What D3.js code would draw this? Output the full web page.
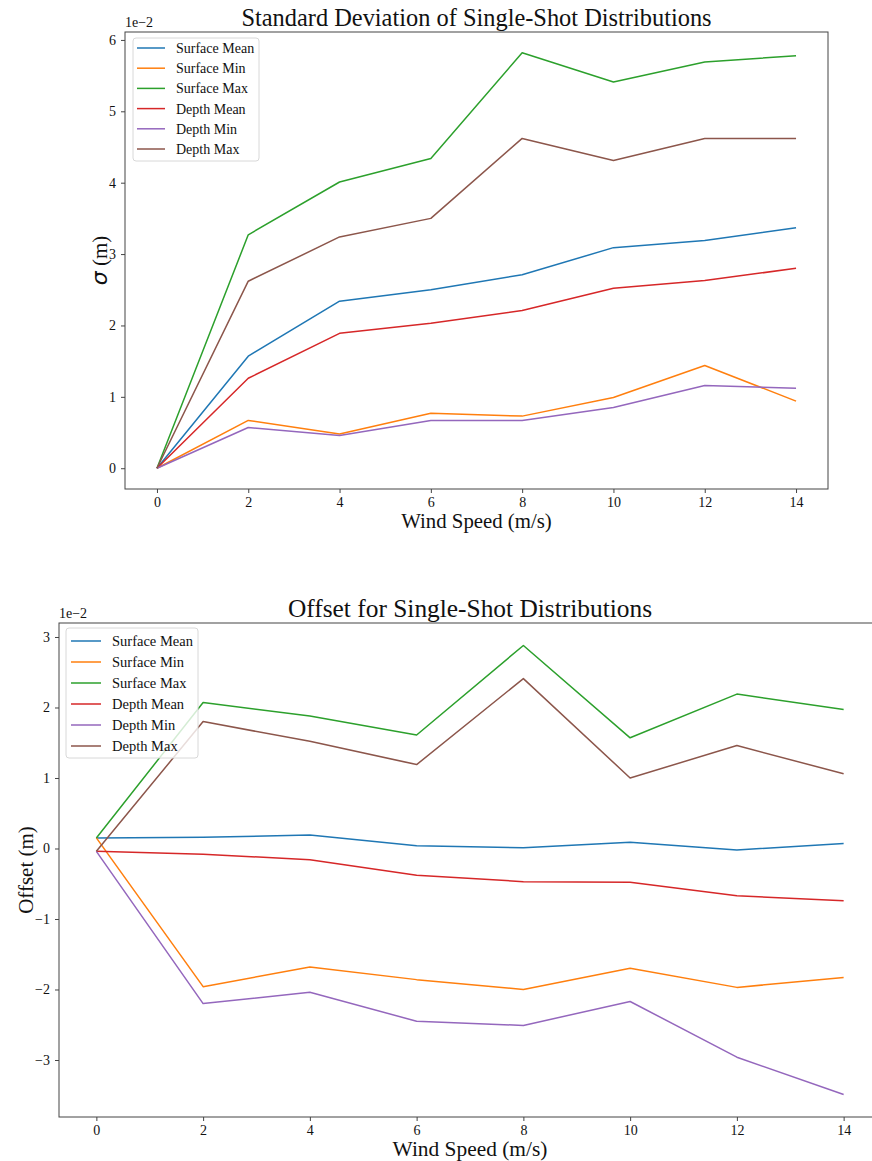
<!DOCTYPE html>
<html>
<head>
<meta charset="utf-8">
<script src="https://cdn.jsdelivr.net/npm/d3@7"></script>
<style>
  html, body { margin: 0; padding: 0; background: #fff; }
  svg { display: block; font-family: "Liberation Serif", "Times New Roman", serif; }
  .tick text { font-family: "Liberation Serif", serif; font-size: 14px; fill: #111; }
  .domain, .tick line { stroke: #444; }
</style>
</head>
<body>
<svg id="fig" width="872" height="1161"></svg>
<script>
// Wind speeds (m/s)
const windSpeeds = [0, 2, 4, 6, 8, 10, 12, 14];

const seriesNames = ["Surface Mean", "Surface Min", "Surface Max", "Depth Mean", "Depth Min", "Depth Max"];
const seriesColors = ["#1f77b4", "#ff7f0e", "#2ca02c", "#d62728", "#9467bd", "#8c564b"];

// Standard deviation of single-shot distributions (m)
const stdSurfaceMean = [0, 0.0157, 0.0234, 0.0250, 0.0271, 0.0309, 0.0319, 0.0337];
const stdSurfaceMin  = [0, 0.0067, 0.0048, 0.0077, 0.0073, 0.0099, 0.0144, 0.0094];
const stdSurfaceMax  = [0, 0.0327, 0.0401, 0.0434, 0.0582, 0.0541, 0.0569, 0.0578];
const stdDepthMean   = [0, 0.0126, 0.0189, 0.0203, 0.0221, 0.0252, 0.0263, 0.0280];
const stdDepthMin    = [0, 0.0057, 0.0046, 0.0067, 0.0067, 0.0085, 0.0116, 0.0112];
const stdDepthMax    = [0, 0.0262, 0.0324, 0.0350, 0.0462, 0.0431, 0.0462, 0.0462];

// Offset of single-shot distributions (m)
const offSurfaceMean = [0.0015, 0.0016, 0.0019, 0.0004, 0.0001, 0.0009, -0.0002, 0.0007];
const offSurfaceMin  = [0.0015, -0.0196, -0.0168, -0.0186, -0.0200, -0.0170, -0.0197, -0.0183];
const offSurfaceMax  = [0.0015, 0.0207, 0.0188, 0.0161, 0.0288, 0.0157, 0.0219, 0.0197];
const offDepthMean   = [-0.0004, -0.0008, -0.0016, -0.0038, -0.0047, -0.0048, -0.0067, -0.0074];
const offDepthMin    = [-0.0004, -0.0220, -0.0204, -0.0245, -0.0251, -0.0217, -0.0296, -0.0349];
const offDepthMax    = [-0.0004, 0.0180, 0.0152, 0.0119, 0.0241, 0.0100, 0.0146, 0.0106];

const xTicks = [0, 2, 4, 6, 8, 10, 12, 14];
const stdTicks = [0, 1, 2, 3, 4, 5, 6];
const offTicks = [-3, -2, -1, 0, 1, 2, 3];

const svg = d3.select("#fig");

// Pad a data extent by 5% on each side
function padded(lo, hi) {
  const m = (hi - lo) * 0.05;
  return [lo - m, hi + m];
}

function drawPanel(cfg) {
  const { left, top, width, height, series, title, titleSize, xLabelSize, yLabel, yTicks, legend } = cfg;
  const g = svg.append("g");

  const x = d3.scaleLinear().domain(padded(0, 14)).range([left, left + width]);
  const all = series.flat();
  const y = d3.scaleLinear().domain(padded(d3.min(all), d3.max(all))).range([top + height, top]);

  // frame
  g.append("rect")
    .attr("x", left).attr("y", top).attr("width", width).attr("height", height)
    .attr("fill", "none").attr("stroke", "#444").attr("stroke-width", 1);

  // axes
  const xAxis = d3.axisBottom(x).tickValues(xTicks).tickSize(4).tickPadding(4).tickFormat(d3.format("d"));
  g.append("g").attr("transform", `translate(0,${top + height})`).call(xAxis)
    .call(s => s.select(".domain").remove());

  const yAxis = d3.axisLeft(y).tickValues(yTicks.map(v => v / 100)).tickSize(4).tickPadding(5)
    .tickFormat(v => { const n = Math.round(v * 100); return n < 0 ? "\u2212" + (-n) : String(n); });
  g.append("g").attr("transform", `translate(${left},0)`).call(yAxis)
    .call(s => s.select(".domain").remove());

  // lines
  const line = d3.line().x((d, i) => x(windSpeeds[i])).y(d => y(d));
  series.forEach((s, i) => {
    g.append("path").datum(s)
      .attr("d", line).attr("fill", "none")
      .attr("stroke", seriesColors[i]).attr("stroke-width", 1.5)
      .attr("stroke-linejoin", "round");
  });

  // offset text
  g.append("text").attr("x", left).attr("y", top - 5)
    .attr("font-size", 14).attr("fill", "#111").text("1e\u22122");

  // title
  g.append("text").attr("x", left + width / 2).attr("y", top - 6)
    .attr("text-anchor", "middle").attr("font-size", titleSize).attr("fill", "#111").text(title);

  // x label
  g.append("text").attr("x", left + width / 2).attr("y", top + height + 39)
    .attr("text-anchor", "middle").attr("font-size", xLabelSize).attr("fill", "#111").text("Wind Speed (m/s)");

  // y label
  g.append("text")
    .attr("transform", `translate(${yLabel.x},${top + height / 2}) rotate(-90)`)
    .attr("text-anchor", "middle").attr("font-size", 21).attr("fill", "#111")
    .html(yLabel.html);

  // legend
  const lg = g.append("g").attr("transform", `translate(${legend.x},${legend.y})`);
  lg.append("rect").attr("width", legend.w).attr("height", legend.h).attr("rx", 3)
    .attr("fill", "#fff").attr("fill-opacity", 0.8).attr("stroke", "#d8d8d8");
  seriesNames.forEach((name, i) => {
    const yy = legend.first + i * legend.step;
    lg.append("line").attr("x1", legend.lx).attr("x2", legend.lx + legend.lw)
      .attr("y1", yy).attr("y2", yy).attr("stroke", seriesColors[i]).attr("stroke-width", 1.5);
    lg.append("text").attr("x", legend.tx).attr("y", yy + 5)
      .attr("font-size", legend.fs).attr("fill", "#111").text(name);
  });
}

drawPanel({
  left: 125, top: 32, width: 703, height: 457,
  series: [stdSurfaceMean, stdSurfaceMin, stdSurfaceMax, stdDepthMean, stdDepthMin, stdDepthMax],
  title: "Standard Deviation of Single-Shot Distributions",
  titleSize: 24.4, xLabelSize: 20.8,
  yLabel: { x: 107, html: '<tspan font-family="DejaVu Sans" font-style="italic" font-size="22">\u03C3</tspan> (m)' },
  yTicks: stdTicks,
  legend: { x: 133, y: 38, w: 126, h: 123, first: 10, step: 20.2, lx: 4, lw: 28, tx: 43, fs: 14 }
});

drawPanel({
  left: 59, top: 623, width: 822, height: 494,
  series: [offSurfaceMean, offSurfaceMin, offSurfaceMax, offDepthMean, offDepthMin, offDepthMax],
  title: "Offset for Single-Shot Distributions",
  titleSize: 25.4, xLabelSize: 21.4,
  yLabel: { x: 33, html: "Offset (m)" },
  yTicks: offTicks,
  legend: { x: 66, y: 628, w: 132, h: 130, first: 13, step: 21, lx: 5, lw: 30, tx: 46, fs: 14.5 }
});
</script>
</body>
</html>
